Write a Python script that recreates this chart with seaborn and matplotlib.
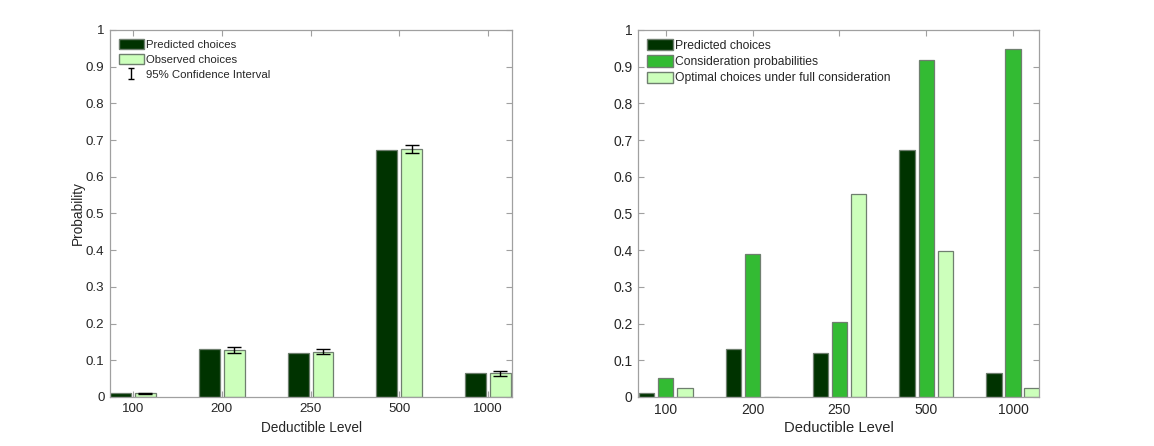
import numpy as np
import pandas as pd
import matplotlib
matplotlib.use("Agg")
import matplotlib.pyplot as plt
import seaborn as sns
from matplotlib.patches import Patch
from matplotlib.legend_handler import HandlerErrorbar
from matplotlib.container import ErrorbarContainer

levels = ["100", "200", "250", "500", "1000"]
predicted = [0.011, 0.131, 0.121, 0.673, 0.065]
observed = [0.010, 0.129, 0.123, 0.676, 0.064]
ci_half = [0.002, 0.008, 0.007, 0.011, 0.0055]
consideration = [0.051, 0.390, 0.204, 0.917, 0.947]
optimal = [0.025, 0.0, 0.554, 0.398, 0.024]

dark = "#003300"
mid = "#33bb33"
light = "#ccffbb"
edge = "#6f7f6f"
spine_c = "#a0a0a0"
text_c = "#262626"

sns.set_theme(style="white")
plt.rcParams["font.family"] = ["Liberation Sans", "DejaVu Sans"]

fig = plt.figure(figsize=(11.54, 4.46), dpi=100)
ax1 = fig.add_axes([0.0953, 0.1099, 0.3484, 0.8229])
ax2 = fig.add_axes([0.5529, 0.1099, 0.3475, 0.8229])

df1 = pd.DataFrame({
    "Deductible": levels * 2,
    "Probability": predicted + observed,
    "Series": ["Predicted choices"] * 5 + ["Observed choices"] * 5,
})
sns.barplot(data=df1, x="Deductible", y="Probability", hue="Series",
            order=levels, hue_order=["Predicted choices", "Observed choices"],
            palette=[dark, light], saturation=1, width=0.56, gap=0.16,
            errorbar=None, edgecolor=edge, linewidth=0.9, ax=ax1, legend=False)

obs_patches = ax1.containers[1].patches
xs = [p.get_x() + p.get_width() / 2 for p in obs_patches]
ax1.errorbar(xs, observed, yerr=ci_half, fmt="none", ecolor="black",
             elinewidth=1.0, capsize=5, capthick=1.0)
eb_leg = ax1.errorbar([np.nan], [np.nan], yerr=[0.01], fmt="none",
                      ecolor="black", elinewidth=1.0, capsize=2.2,
                      capthick=1.0, label="95% Confidence Interval")

df2 = pd.DataFrame({
    "Deductible": levels * 3,
    "Probability": predicted + consideration + optimal,
    "Series": ["Predicted choices"] * 5 + ["Consideration probabilities"] * 5
              + ["Optimal choices under full consideration"] * 5,
})
sns.barplot(data=df2, x="Deductible", y="Probability", hue="Series",
            order=levels,
            hue_order=["Predicted choices", "Consideration probabilities",
                       "Optimal choices under full consideration"],
            palette=[dark, mid, light], saturation=1, width=0.66, gap=0.2,
            errorbar=None, edgecolor=edge, linewidth=0.9, ax=ax2, legend=False)

h1 = [Patch(facecolor=dark, edgecolor=edge, label="Predicted choices"),
      Patch(facecolor=light, edgecolor=edge, label="Observed choices"),
      eb_leg]
ax1.legend(handles=h1, loc="upper left", frameon=False, fontsize=8.2,
           handlelength=2.25, handleheight=1.05, borderaxespad=0.35,
           labelspacing=0.35, handletextpad=0.15,
           handler_map={ErrorbarContainer: HandlerErrorbar(yerr_size=0.45)})

h2 = [Patch(facecolor=dark, edgecolor=edge, label="Predicted choices"),
      Patch(facecolor=mid, edgecolor=edge, label="Consideration probabilities"),
      Patch(facecolor=light, edgecolor=edge,
            label="Optimal choices under full consideration")]
ax2.legend(handles=h2, loc="upper left", frameon=False, fontsize=8.7,
           handlelength=2.15, handleheight=1.05, borderaxespad=0.35,
           labelspacing=0.3, handletextpad=0.15)

yt = np.round(np.arange(0, 1.01, 0.1), 1)
ylab = ["0"] + [f"{v:.1f}" for v in yt[1:-1]] + ["1"]
for ax, xl, xfs, tfs, lp in [(ax1, (-0.26, 4.27), 9.8, 9.6, 4.5),
                             (ax2, (-0.32, 4.30), 10.6, 10, 3.5)]:
    ax.set_xlim(*xl)
    ax.set_ylim(0, 1)
    ax.set_yticks(yt)
    ax.set_yticklabels(ylab)
    ax.set_xlabel("Deductible Level", fontsize=xfs, color=text_c, labelpad=lp)
    ax.set_ylabel("")
    ax.tick_params(axis="both", direction="in", length=4, width=0.8,
                   colors=spine_c, labelcolor=text_c, labelsize=tfs,
                   top=True, right=True, bottom=True, left=True, pad=4)
    for s in ax.spines.values():
        s.set_visible(True)
        s.set_color(spine_c)
        s.set_linewidth(0.9)
    ax.grid(False)

ax1.set_ylabel("Probability", fontsize=9.8, color=text_c, labelpad=1)

fig.savefig("out.png", dpi=100)
